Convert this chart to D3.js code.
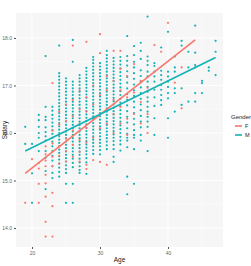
<!DOCTYPE html>
<html>
<head>
<meta charset="utf-8">
<script src="https://cdn.jsdelivr.net/npm/d3@7"></script>
<style>
  body { margin: 0; background: #fff; }
  svg { display: block; font-family: "Liberation Sans", Arial, sans-serif; }
</style>
</head>
<body>
<div class="chart"></div>
<script>
// ages (x) and salary values (y), one list per age
var ages = [19, 20, 21, 22, 23, 24, 25, 26, 27, 28, 29, 30, 31, 32, 33,
            34, 35, 36, 37, 38, 39, 40, 41, 42, 43, 44, 45, 46, 47];

var maleVals = [
  [16.13, 15.77],
  [15.77, 15.15, 14.53],
  [16.38, 16.27, 16.13, 16.0, 15.9, 15.62],
  [17.62, 16.55, 16.34, 16.27, 16.12, 16.02, 15.93, 15.84, 15.62, 15.48, 15.2, 14.82],
  [16.55, 16.47, 16.38, 16.3, 16.22, 16.14, 16.06, 15.98, 15.9, 15.82, 15.72, 15.62, 15.52, 15.42, 15.3, 15.16, 15.05],
  [17.84, 17.26, 17.19, 17.12, 17.05, 16.98, 16.91, 16.84, 16.77, 16.7, 16.63, 16.56, 16.49, 16.42, 16.35, 16.28, 16.21, 16.14, 16.07, 16.0, 15.93, 15.86, 15.79, 15.72, 15.65, 15.58, 15.51, 15.44, 15.36, 15.27, 15.18, 15.08],
  [17.15, 17.08, 17.01, 16.94, 16.87, 16.8, 16.73, 16.66, 16.59, 16.52, 16.45, 16.38, 16.31, 16.24, 16.17, 16.1, 16.03, 15.96, 15.89, 15.82, 15.75, 15.68, 15.61, 15.54, 15.47, 15.4, 15.32, 15.24, 15.16, 14.93, 14.53],
  [17.96, 17.5, 17.08, 17.01, 16.94, 16.87, 16.8, 16.73, 16.66, 16.59, 16.52, 16.45, 16.38, 16.31, 16.24, 16.17, 16.1, 16.03, 15.96, 15.89, 15.82, 15.75, 15.68, 15.61, 15.54, 15.46, 15.37, 15.28, 14.93, 14.53],
  [17.22, 17.15, 17.08, 17.01, 16.94, 16.87, 16.8, 16.73, 16.66, 16.59, 16.52, 16.45, 16.38, 16.31, 16.24, 16.17, 16.1, 16.03, 15.96, 15.89, 15.82, 15.75, 15.68, 15.61, 15.54, 15.46, 15.38, 15.3, 15.22, 15.16],
  [17.37, 17.3, 17.23, 17.16, 17.09, 17.02, 16.95, 16.88, 16.81, 16.74, 16.67, 16.6, 16.53, 16.46, 16.39, 16.32, 16.25, 16.18, 16.11, 16.04, 15.97, 15.9, 15.83, 15.76, 15.69, 15.62, 15.55, 15.47, 15.38, 15.14],
  [17.6, 17.54, 17.47, 17.4, 17.33, 17.26, 17.19, 17.12, 17.05, 16.98, 16.91, 16.84, 16.77, 16.7, 16.63, 16.56, 16.49, 16.42, 16.35, 16.28, 16.21, 16.14, 16.07, 16.0, 15.93, 15.86, 15.79, 15.72, 15.64, 15.56],
  [17.47, 17.4, 17.33, 17.26, 17.19, 17.12, 17.05, 16.98, 16.91, 16.84, 16.77, 16.7, 16.63, 16.56, 16.49, 16.42, 16.35, 16.28, 16.21, 16.14, 16.07, 16.0, 15.93, 15.86, 15.79, 15.72, 15.64, 15.55],
  [17.73, 17.64, 17.57, 17.5, 17.43, 17.36, 17.29, 17.22, 17.15, 17.08, 17.01, 16.94, 16.87, 16.8, 16.73, 16.66, 16.59, 16.52, 16.45, 16.38, 16.31, 16.24, 16.17, 16.1, 16.03, 15.96, 15.89, 15.82, 15.74, 15.66],
  [17.58, 17.51, 17.44, 17.37, 17.3, 17.23, 17.16, 17.09, 17.02, 16.95, 16.88, 16.81, 16.74, 16.67, 16.6, 16.53, 16.46, 16.39, 16.32, 16.25, 16.18, 16.11, 16.04, 15.97, 15.9, 15.83, 15.75, 15.66, 15.5, 15.39],
  [17.6, 17.52, 17.44, 17.36, 17.28, 17.2, 17.12, 17.04, 16.96, 16.88, 16.8, 16.72, 16.64, 16.56, 16.48, 16.4, 16.32, 16.24, 16.16, 16.08, 16.0, 15.92, 15.84, 15.76, 15.63],
  [18.04, 17.62, 17.52, 17.42, 17.3, 17.18, 17.06, 16.94, 16.82, 16.7, 16.58, 16.46, 16.34, 16.22, 16.1, 15.98, 15.9, 15.84, 15.7, 15.08, 14.71],
  [17.83, 17.64, 17.5, 17.38, 17.26, 17.14, 17.02, 16.9, 16.78, 16.66, 16.54, 16.42, 16.3, 16.18, 16.06, 15.96, 15.9, 15.66, 14.93],
  [17.9, 17.73, 17.56, 17.32, 17.2, 17.08, 16.96, 16.84, 16.72, 16.6, 16.48, 16.36, 16.24, 16.12, 15.96, 15.84],
  [18.45, 17.61, 17.52, 17.43, 17.29, 17.19, 17.08, 16.97, 16.87, 16.75, 16.66, 16.55, 16.45, 16.34, 16.24, 16.13, 15.62],
  [17.47, 17.41, 17.29, 17.19, 17.08, 16.91, 16.75, 16.57, 16.31, 15.96],
  [17.8, 17.31, 17.22, 17.12, 17.01, 16.91, 16.8, 16.69, 16.59],
  [18.13, 17.29, 17.19, 17.08, 16.97, 16.84, 16.73, 16.31, 15.9],
  [17.61, 17.38, 17.29, 16.94, 16.84, 16.45],
  [17.94, 17.84, 16.94, 16.59],
  [17.71, 17.38, 16.66],
  [18.26, 17.69, 17.43, 17.38, 16.84, 16.66],
  [17.1, 17.05, 16.84],
  [17.38, 17.31],
  [17.94, 17.71, 17.22]
];

var femaleVals = [
  [14.53],
  [15.45],
  [15.37, 15.25, 14.93, 14.53],
  [15.72, 15.55, 15.42, 15.3, 15.12, 14.94, 14.66, 14.13, 13.82],
  [17.05, 16.05, 15.78, 15.5, 15.3, 14.74, 14.46, 13.82],
  [16.45, 16.18, 15.95, 15.72, 15.52, 15.35],
  [16.6, 16.25, 15.88, 15.62, 15.4],
  [17.84, 16.7, 16.35, 16.05, 15.75, 15.5],
  [16.9, 16.5, 16.2, 15.85, 15.6, 15.4],
  [17.92, 16.75, 16.45, 16.1, 15.8, 15.33, 15.24],
  [17.0, 16.6, 16.3, 15.9, 15.43],
  [18.08, 17.68, 16.8, 16.4, 16.1, 15.39],
  [17.2, 16.9, 16.5, 16.2, 15.33],
  [17.73, 17.1, 16.7, 16.4, 16.0],
  [17.73, 17.35, 16.9, 16.55, 16.2],
  [17.2, 16.75, 16.3, 15.96],
  [17.45, 16.85, 16.4],
  [17.1, 16.65, 16.2],
  [16.95, 16.4, 16.0],
  [17.85],
  [17.71],
  [18.32],
  [17.06],
  [17.38, 16.52],
  [], [], [], [], []
];

// fitted lines (lm per gender), end points
var fitF = [[19, 15.15], [44, 17.96]];
var fitM = [[19, 15.62], [47, 17.59]];

var xTicks = [20, 30, 40];
var yTicks = [14, 15, 16, 17, 18];
var genders = ["F", "M"];
var colors = { F: "#F8766D", M: "#00BFC4" };

var svgWidth = 251, svgHeight = 266;
var panel = { left: 16, right: 223, top: 13, bottom: 247 };

var svg = d3.select(".chart").append("svg")
  .attr("width", svgWidth)
  .attr("height", svgHeight);

svg.append("rect").attr("width", svgWidth).attr("height", svgHeight).attr("fill", "#fff");

var x = d3.scaleLinear().domain([17.647, 48.09]).range([panel.left, panel.right]);
var y = d3.scaleLinear().domain([13.6, 18.526]).range([panel.bottom, panel.top]);

// panel + grid
svg.append("rect")
  .attr("x", panel.left).attr("y", panel.top)
  .attr("width", panel.right - panel.left).attr("height", panel.bottom - panel.top)
  .attr("fill", "#F6F6F6");

var grid = svg.append("g");
[25, 35, 45].forEach(function (v) {
  grid.append("line").attr("x1", x(v)).attr("x2", x(v))
    .attr("y1", panel.top).attr("y2", panel.bottom)
    .attr("stroke", "#fff").attr("stroke-width", 0.5);
});
[14.5, 15.5, 16.5, 17.5].forEach(function (v) {
  grid.append("line").attr("y1", y(v)).attr("y2", y(v))
    .attr("x1", panel.left).attr("x2", panel.right)
    .attr("stroke", "#fff").attr("stroke-width", 0.5);
});
xTicks.forEach(function (v) {
  grid.append("line").attr("x1", x(v)).attr("x2", x(v))
    .attr("y1", panel.top).attr("y2", panel.bottom)
    .attr("stroke", "#fff").attr("stroke-width", 1);
});
yTicks.forEach(function (v) {
  grid.append("line").attr("y1", y(v)).attr("y2", y(v))
    .attr("x1", panel.left).attr("x2", panel.right)
    .attr("stroke", "#fff").attr("stroke-width", 1);
});

// flatten points
var maleData = [], femaleData = [];
ages.forEach(function (a, i) {
  maleVals[i].forEach(function (v) { maleData.push({ age: a, salary: v }); });
  femaleVals[i].forEach(function (v) { femaleData.push({ age: a, salary: v }); });
});

svg.append("g").selectAll("circle")
  .data(maleData).enter().append("circle")
  .attr("cx", d => x(d.age)).attr("cy", d => y(d.salary))
  .attr("r", 1.1).attr("fill", "#12B3B6");

svg.append("g").selectAll("circle")
  .data(femaleData).enter().append("circle")
  .attr("cx", d => x(d.age)).attr("cy", d => y(d.salary))
  .attr("r", 1.1).attr("fill", colors.F);

var line = d3.line().x(d => x(d[0])).y(d => y(d[1]));
svg.append("path").datum(fitF).attr("d", line)
  .attr("fill", "none").attr("stroke", colors.F).attr("stroke-width", 1.6);
svg.append("path").datum(fitM).attr("d", line)
  .attr("fill", "none").attr("stroke", "#12B3B6").attr("stroke-width", 1.6);

// axes
var xAxis = svg.append("g")
  .attr("transform", `translate(0, ${panel.bottom})`)
  .call(d3.axisBottom(x).tickValues(xTicks).tickSize(2).tickPadding(2));
var yAxis = svg.append("g")
  .attr("transform", `translate(${panel.left}, 0)`)
  .call(d3.axisLeft(y).tickValues(yTicks).tickSize(2).tickPadding(2));

[xAxis, yAxis].forEach(function (ax) {
  ax.select(".domain").remove();
  ax.selectAll(".tick line").attr("stroke", "#555");
  ax.selectAll(".tick text").attr("fill", "#666").style("font-size", "5px");
});

svg.append("text")
  .attr("x", (panel.left + panel.right) / 2).attr("y", 262)
  .attr("text-anchor", "middle")
  .style("font-size", "6.5px").attr("fill", "#222")
  .text("Age");

svg.append("text")
  .attr("transform", "rotate(-90)")
  .attr("x", -(panel.top + panel.bottom) / 2).attr("y", 7)
  .attr("text-anchor", "middle")
  .style("font-size", "6.5px").attr("fill", "#222")
  .text("Salary");

// legend
var legend = svg.append("g");
legend.append("text").attr("x", 231).attr("y", 119)
  .style("font-size", "6px").attr("fill", "#222").text("Gender");
genders.forEach(function (g, i) {
  var ly = 126 + i * 9;
  legend.append("line").attr("x1", 235).attr("x2", 242).attr("y1", ly).attr("y2", ly)
    .attr("stroke", g === "M" ? "#12B3B6" : colors.F).attr("stroke-width", 1.6);
  legend.append("text").attr("x", 245).attr("y", ly + 2)
    .style("font-size", "5.5px").attr("fill", "#222").text(g);
});
</script>
</body>
</html>
